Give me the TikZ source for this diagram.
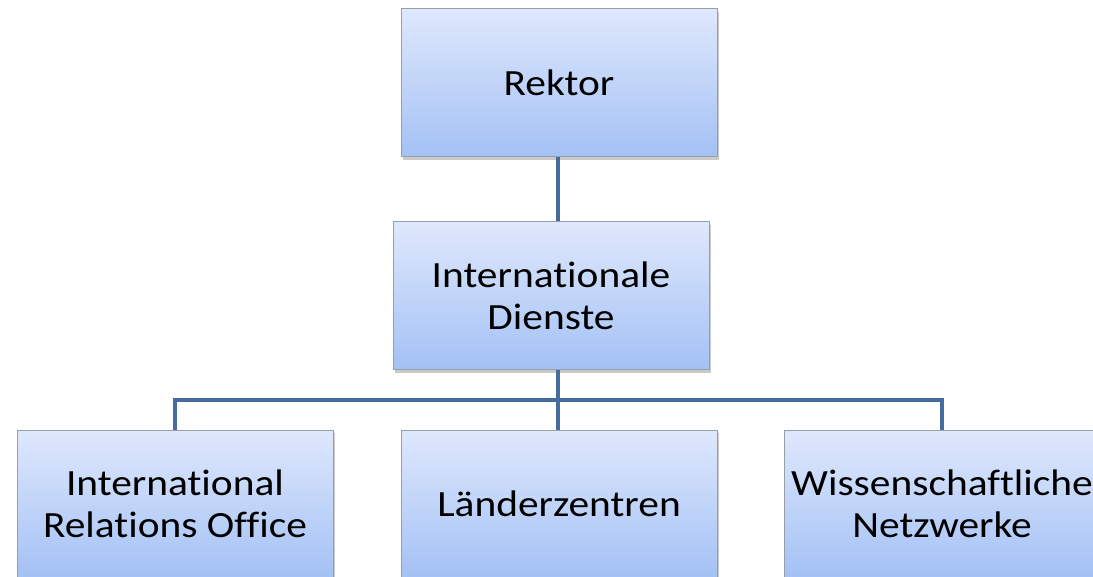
\documentclass[tikz,border=0pt]{standalone}
\usepackage{fontspec}
\setmainfont{Carlito}[Ligatures=CommonOff, FakeStretch=1.12]
\usetikzlibrary{shadows}
\definecolor{boxtop}{RGB}{223,232,252}
\definecolor{boxbot}{RGB}{163,193,245}
\definecolor{boxline}{RGB}{150,158,170}
\definecolor{conn}{RGB}{70,108,158}
\tikzset{
  orgbox/.style={rectangle, draw=boxline, line width=1pt,
    top color=boxtop, bottom color=boxbot,
    minimum width=316pt, minimum height=148pt, inner sep=0pt,
    align=center, font=\fontsize{37}{42}\selectfont,
    drop shadow={opacity=0.35, shadow xshift=2pt, shadow yshift=-3pt, fill=black!60}},
  connline/.style={draw=conn, line width=4pt}
}
\begin{document}
\begin{tikzpicture}[x=1pt,y=-1pt]
\useasboundingbox (0,0) rectangle (1093,577);
\clip (0,0) rectangle (1093,577);
\coordinate (bus) at (558,400);
\node[orgbox] (rektor) at (559,83) {Rektor};
\node[orgbox] (dienste) at (551,296) {Internationale\\Dienste};
\node[orgbox] (iro) at (175,504) {International\\Relations Office};
\node[orgbox] (laender) at (559,504) {Länderzentren};
\node[orgbox] (wn) at (942,504) {Wissenschaftliche\\Netzwerke};
\draw[connline] (rektor.south -| bus) -- (dienste.north -| bus);
\draw[connline] (dienste.south -| bus) -- (laender.north -| bus);
\draw[connline] (iro.north) -- (iro.north |- bus) -- (wn.north |- bus) -- (wn.north);
\end{tikzpicture}
\end{document}
